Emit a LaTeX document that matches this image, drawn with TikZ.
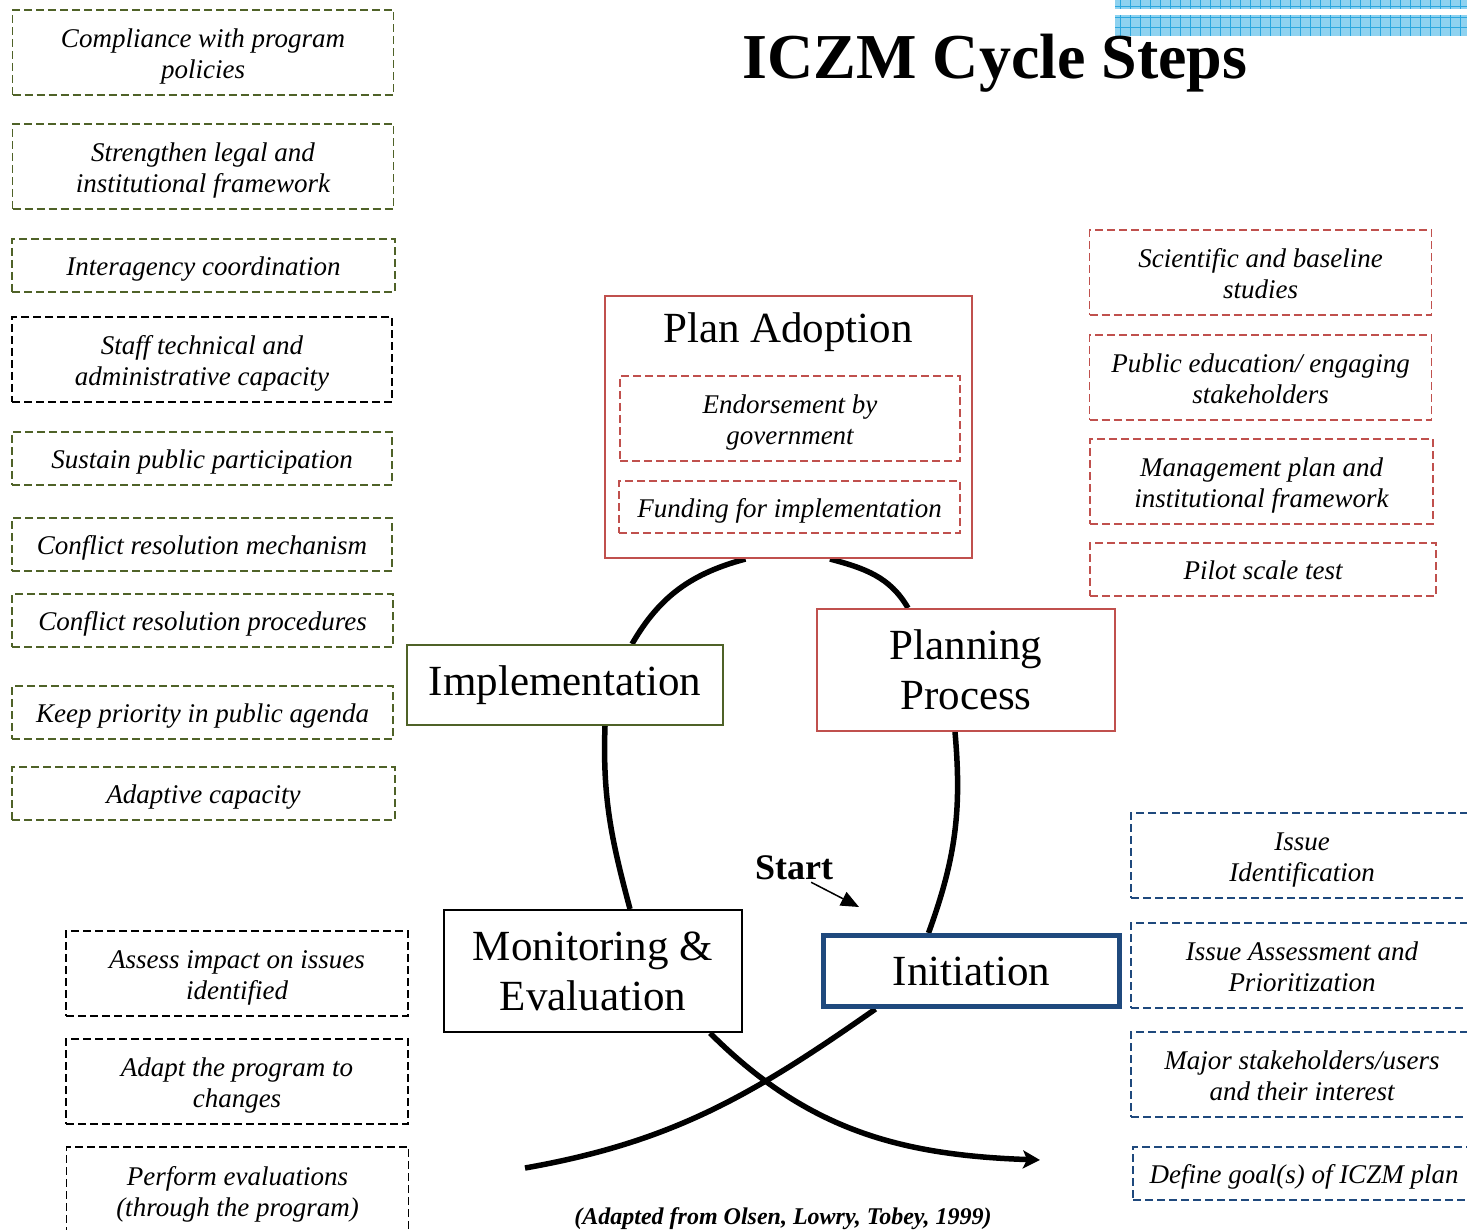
\documentclass[tikz,border=0pt]{standalone}
\usepackage{fontspec}
\setmainfont{Liberation Serif}
\usetikzlibrary{arrows.meta,backgrounds}

\definecolor{olivegreen}{HTML}{4F6228}
\definecolor{brickred}{HTML}{C0504D}
\definecolor{navyblue}{HTML}{1F497D}
\definecolor{gridblue}{HTML}{2AA7DF}
\definecolor{skyfill}{HTML}{8ED2F0}

\newcommand{\notelines}[1]{\raisebox{-4pt}[\height][\depth]{\begin{tabular}{@{}c@{}}#1\end{tabular}}}

\tikzset{
  note/.style={draw, fill=white, line width=1.8pt, dash pattern=on 8pt off 4pt,
    inner sep=0pt, minimum height=85pt,
    font=\fontsize{27}{31}\selectfont\itshape},
  greennote/.style={note, draw=olivegreen, minimum width=381pt},
  blacknote/.style={note, draw=black, minimum width=342pt},
  rednote/.style={note, draw=brickred, minimum width=342pt},
  bluenote/.style={note, draw=navyblue, minimum width=342pt},
  oneline/.style={minimum height=53pt},
  stage/.style={draw, fill=white, line width=2pt, align=center, inner sep=0pt,
    font=\fontsize{43}{50}\selectfont},
  loopline/.style={line width=5.5pt},
  gridline/.style={gridblue, line width=1pt},
}

\begin{document}
\begin{tikzpicture}[x=1pt,y=-1pt]
    \useasboundingbox (0,0) rectangle (1467,1230);

    % corner band
    \fill[skyfill] (1115,0) rectangle (1467,9);
    \fill[skyfill] (1115,15) rectangle (1467,36);
    \foreach \gx in {1120,1130,...,1460}
        \draw[gridline] (\gx,0) -- (\gx,9) (\gx,15) -- (\gx,36);
    \draw[gridline] (1115,7) -- (1467,7) (1115,18) -- (1467,18) (1115,28) -- (1467,28);

    \node[font=\fontsize{64}{72}\selectfont\bfseries] (title) at (995,63) {ICZM Cycle Steps};

    % left column
    \node[greennote] (comply) at (203,52.5) {\notelines{Compliance with program\\policies}};
    \node[greennote] (legal) at (203,166.5) {\notelines{Strengthen legal and\\institutional framework}};
    \node[greennote,oneline,minimum width=383pt] (agency) at (203.5,265.5) {\notelines{Interagency coordination}};
    \node[greennote,draw=black,minimum width=380pt] (staff) at (202,359.5) {\notelines{Staff technical and\\administrative capacity}};
    \node[greennote,oneline,minimum width=380pt] (public) at (202,458.5) {\notelines{Sustain public participation}};
    \node[greennote,oneline,minimum width=380pt] (mechanism) at (202,544.5) {\notelines{Conflict resolution mechanism}};
    \node[greennote,oneline] (procedure) at (202.5,620.5) {\notelines{Conflict resolution procedures}};
    \node[greennote,oneline] (agenda) at (202.5,712.5) {\notelines{Keep priority in public agenda}};
    \node[greennote,oneline,minimum width=383pt] (adaptive) at (203.5,793.5) {\notelines{Adaptive capacity}};

    \node[blacknote] (assess) at (237,973.5) {\notelines{Assess impact on issues\\identified}};
    \node[blacknote] (adapt) at (237,1081.5) {\notelines{Adapt the program to\\changes}};
    \node[blacknote,minimum height=88pt] (perform) at (237.5,1191) {\notelines{Perform evaluations\\(through the program)}};

    % right column
    \node[rednote] (science) at (1260.5,272.5) {\notelines{Scientific and baseline\\studies}};
    \node[rednote] (educate) at (1260.5,377.5) {\notelines{Public education/ engaging\\stakeholders}};
    \node[rednote,minimum width=343pt] (mgmt) at (1261.5,481.5) {\notelines{Management plan and\\institutional framework}};
    \node[rednote,oneline,minimum width=346pt] (pilot) at (1263,569.5) {\notelines{Pilot scale test}};

    \node[bluenote] (identify) at (1302,855.5) {\notelines{Issue\\Identification}};
    \node[bluenote] (ranking) at (1302,965.5) {\notelines{Issue Assessment and\\Prioritization}};
    \node[bluenote] (users) at (1302,1074.5) {\notelines{Major stakeholders/users\\and their interest}};
    \node[bluenote,oneline] (goals) at (1304,1173.5) {\notelines{Define goal(s) of ICZM plan}};

    % cycle stages
    \node[stage, draw=brickred, minimum width=367pt, minimum height=262pt] (adopt) at (788.5,427) {};
    \node[font=\fontsize{43}{50}\selectfont] (adopttitle) at (788,332) {Plan Adoption};
    \node[rednote,minimum width=340pt] (endorse) at (790,418.5) {\notelines{Endorsement by\\government}};
    \node[rednote,oneline,minimum width=341pt,minimum height=52pt] (funding) at (789.5,507) {\notelines{Funding for implementation}};

    \node[stage, draw=olivegreen, minimum width=316pt, minimum height=80pt] (impl) at (565,685) {Implementation};
    \node[stage, draw=brickred, minimum width=298pt, minimum height=122pt] (plan) at (966,670) {Planning\\Process};
    \node[stage, draw=black, minimum width=298pt, minimum height=122pt] (monit) at (593,971) {Monitoring \&\\Evaluation};
    \node[stage, draw=navyblue, line width=5pt, minimum width=296pt, minimum height=71pt] (init) at (971.5,971) {Initiation};

    \coordinate (tail) at (525,1168);
    \coordinate (head) at (1040,1160);
    \begin{scope}[on background layer]
        \draw[loopline] (tail) to[out=10,in=215] ([xshift=-96pt]init.south);
        \draw[loopline] ([xshift=-43pt]init.north) to[out=70,in=-85] ([xshift=-11pt]plan.south);
        \draw[loopline] ([xshift=-58pt]plan.north) to[out=120,in=-15] ([xshift=41.5pt]adopt.south);
        \draw[loopline] ([xshift=-43pt]adopt.south) to[out=195,in=60] ([xshift=67pt]impl.north);
        \draw[loopline] ([xshift=40pt]impl.south) to[out=-92,in=105] ([xshift=37pt]monit.north);
        \draw[loopline,-{Stealth[length=17pt,width=18pt,inset=4pt]}] ([xshift=117pt]monit.south) to[out=-45,in=178] (head);
    \end{scope}

    \node[font=\fontsize{36}{40}\selectfont\bfseries, inner sep=0pt] (start) at (794,868) {Start};
    \coordinate (startpt) at (859,907);
    \draw[line width=1.5pt, -{Triangle[length=18pt,width=15pt]}] ([xshift=-22pt,yshift=-2pt]start.south east) -- (startpt);

    \node[font=\fontsize{24}{28}\selectfont\bfseries\itshape] (source) at (783,1219) {(Adapted from Olsen, Lowry, Tobey, 1999)};
\end{tikzpicture}
\end{document}
